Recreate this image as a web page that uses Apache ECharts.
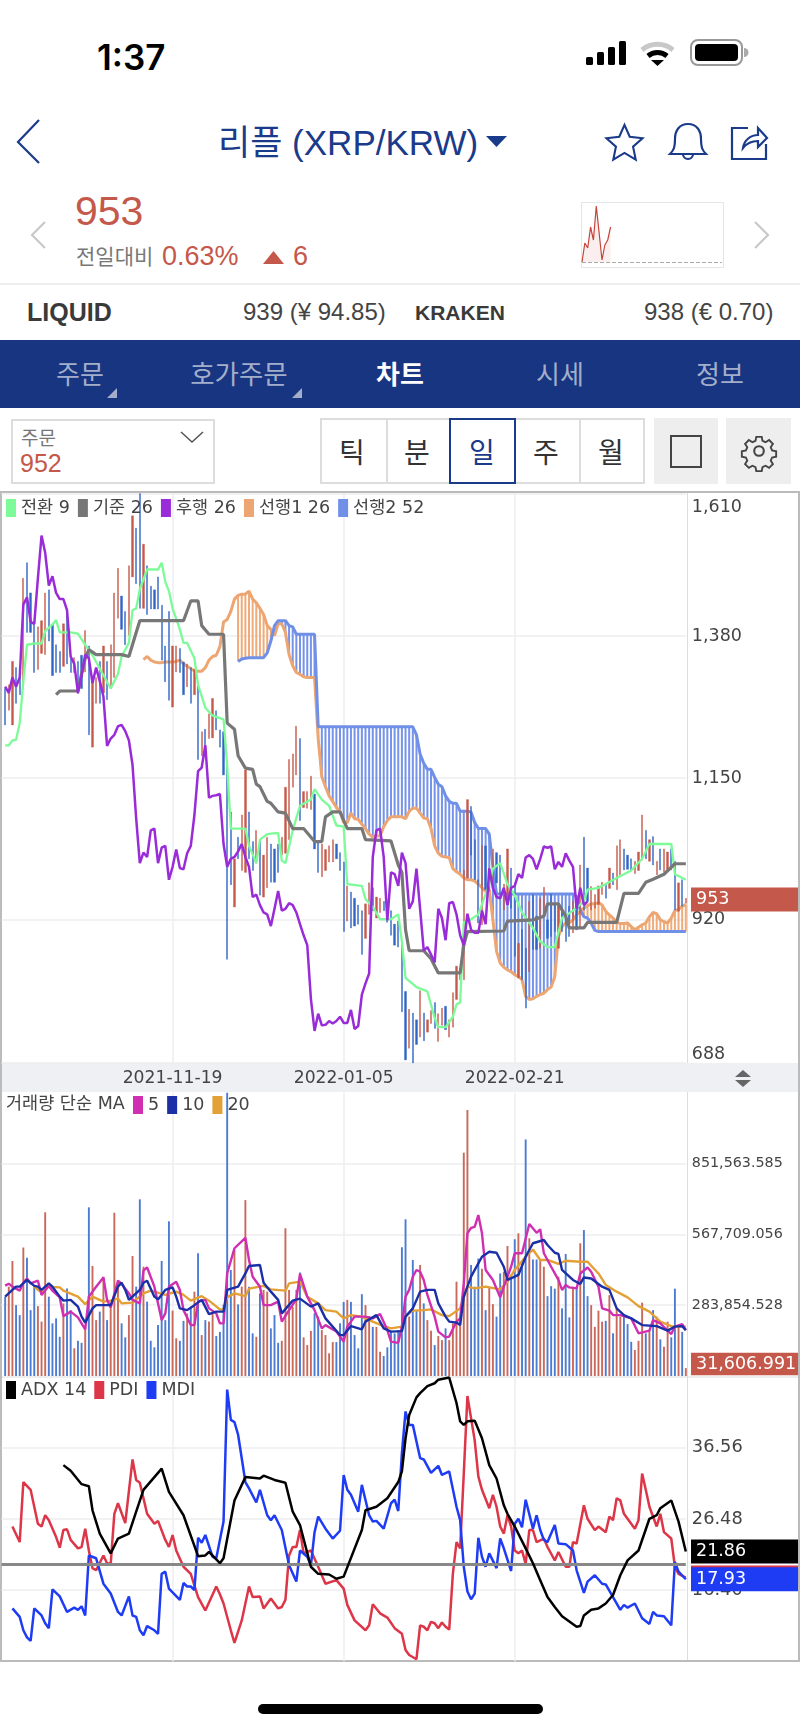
<!DOCTYPE html>
<html>
<head>
<meta charset="utf-8">
<style>
html,body{margin:0;padding:0;background:#fff;width:800px;height:1731px;overflow:hidden}
body{font-family:"Liberation Sans","Noto Sans CJK KR",sans-serif}
.t{position:absolute;white-space:nowrap;line-height:1}
.c{transform:translateX(-50%)}
.box{position:absolute;box-sizing:border-box}
svg{position:absolute;overflow:visible}
#chart{position:absolute;left:0;top:0;width:800px;height:1731px}
</style>
<script src="https://cdn.jsdelivr.net/npm/echarts@6/dist/echarts.min.js"></script>
</head>
<body>
<!-- status bar -->
<div class="t" style="left:97px;top:36px;font:600 35px Inter,sans-serif;color:#000">1:37</div>
<svg style="left:0;top:0" width="800" height="80">
  <rect x="586" y="57" width="7" height="8" rx="1.5" fill="#000"/><rect x="597" y="52" width="7" height="13" rx="1.5" fill="#000"/>
  <rect x="608" y="47" width="7" height="18" rx="1.5" fill="#000"/><rect x="619" y="41" width="7" height="24" rx="1.5" fill="#000"/>
  <path d="M642 50a24 24 0 0 1 31 0" fill="none" stroke="#c8c8c8" stroke-width="5"/>
  <path d="M648 56a15 15 0 0 1 19 0" fill="none" stroke="#000" stroke-width="5"/>
  <path d="M651 60h13l-6.500 6z" fill="#000"/>
  <rect x="691" y="40" width="51" height="25" rx="7" fill="none" stroke="#999" stroke-width="2"/>
  <rect x="695" y="44" width="43" height="17" rx="4" fill="#000"/>
  <path d="M744 48a4 4 0 0 1 0 9z" fill="#aaa"/>
</svg>
<!-- title row -->
<svg style="left:0;top:0" width="800" height="280" fill="none" stroke="#1a3a8a" stroke-width="2.200">
  <path d="M39 120L18 142L39 163"/>
  <path d="M624.500 124l5.500 12.500 13.500 1.500-10 9 2.800 13.500-11.800-7-11.800 7 2.800-13.500-10-9 13.500-1.500z" transform="translate(624.500 142) scale(.95) translate(-624.500 -142)"/>
  <path d="M688 124c-9 0-13 7-13 15 0 8-1 11-5 15h36c-4-4-5-7-5-15 0-8-4-15-13-15zM683 154a5 5 0 0 0 10 0"/>
  <path d="M748 128h-16v31h34v-15"/>
  <path d="M743 148c1-8 8-13 15-13v-7l9 10-9 9v-6c-6 0-11 2-15 7z"/>
  <path d="M45 222L32 235L45 248" stroke="#c8c8c8"/>
  <path d="M755 222L768 235L755 248" stroke="#c8c8c8"/>
</svg>
<div class="t" style="left:218px;top:125px;font-size:35px;color:#1a3a8a;font-family:'Liberation Sans','Noto Sans CJK KR'">리플 (XRP/KRW)</div>
<svg style="left:486px;top:136px" width="22" height="12"><path d="M0 0h21l-10.500 11z" fill="#1a3a8a"/></svg>
<!-- quote -->
<div class="t" style="left:75px;top:191px;font-size:41px;color:#c4584a">953</div>
<div class="t" style="left:76px;top:245px;font-size:21px;color:#777;font-family:'Noto Sans CJK KR'">전일대비</div>
<div class="t" style="left:162px;top:243px;font-size:27px;color:#c4584a">0.63%</div>
<svg style="left:263px;top:251px" width="22" height="14"><path d="M10.500 0L21 13H0z" fill="#c4584a"/></svg>
<div class="t" style="left:293px;top:243px;font-size:27px;color:#c4584a">6</div>
<div class="box" style="left:581px;top:202px;width:143px;height:66px;border:1.500px solid #e6e6e6"></div>
<div class="box" style="left:0;top:283px;width:800px;height:2px;background:#eee"></div>
<!-- other exchanges -->
<div class="t" style="left:27px;top:300px;font-size:25px;font-weight:700;color:#3a3a3a">LIQUID</div>
<div class="t" style="left:243px;top:300px;font-size:24px;color:#444">939 (¥ 94.85)</div>
<div class="t" style="left:415px;top:302px;font-size:21px;font-weight:700;color:#3a3a3a">KRAKEN</div>
<div class="t" style="left:644px;top:300px;font-size:24px;color:#444">938 (€ 0.70)</div>
<!-- tabs -->
<div class="box" style="left:0;top:340px;width:800px;height:68px;background:#183582"></div>
<div class="t c" style="left:80px;top:360px;font-size:26px;color:#a3aecb;font-family:'Noto Sans CJK KR'">주문</div>
<div class="t c" style="left:239px;top:360px;font-size:26.500px;color:#a3aecb;font-family:'Noto Sans CJK KR'">호가주문</div>
<div class="t c" style="left:400px;top:360px;font-size:26px;font-weight:700;color:#fff;font-family:'Noto Sans CJK KR'">차트</div>
<div class="t c" style="left:560px;top:360px;font-size:26px;color:#a3aecb;font-family:'Noto Sans CJK KR'">시세</div>
<div class="t c" style="left:720px;top:360px;font-size:26px;color:#a3aecb;font-family:'Noto Sans CJK KR'">정보</div>
<svg style="left:0;top:385px" width="320" height="15" fill="#a3aecb"><path d="M117 3v10h-10z"/><path d="M302 3v10h-10z"/></svg>
<!-- toolbar -->
<div class="box" style="left:11px;top:419px;width:204px;height:65px;border:2px solid #ddd"></div>
<div class="t" style="left:21px;top:427px;font-size:19px;color:#777;font-family:'Noto Sans CJK KR'">주문</div>
<div class="t" style="left:20px;top:451px;font-size:25px;color:#c4584a">952</div>
<svg style="left:181px;top:432px" width="23" height="11" fill="none" stroke="#555" stroke-width="1.500"><path d="M0 0l11 10 11-10"/></svg>
<div class="box" style="left:320px;top:418px;width:325px;height:66px;border:2px solid #ddd"></div>
<div class="box" style="left:386px;top:418px;width:2px;height:66px;background:#ddd"></div>
<div class="box" style="left:579px;top:418px;width:2px;height:66px;background:#ddd"></div>
<div class="box" style="left:449px;top:418px;width:67px;height:66px;border:2px solid #1a3a8a"></div>
<div class="t c" style="left:352px;top:437px;font-size:28px;color:#333;font-family:'Noto Sans CJK KR'">틱</div>
<div class="t c" style="left:417px;top:437px;font-size:28px;color:#333;font-family:'Noto Sans CJK KR'">분</div>
<div class="t c" style="left:482px;top:437px;font-size:28px;color:#1a3a8a;font-family:'Noto Sans CJK KR'">일</div>
<div class="t c" style="left:546px;top:437px;font-size:28px;color:#333;font-family:'Noto Sans CJK KR'">주</div>
<div class="t c" style="left:611px;top:437px;font-size:28px;color:#333;font-family:'Noto Sans CJK KR'">월</div>
<div class="box" style="left:654px;top:418px;width:64px;height:66px;background:#eee"></div>
<div class="box" style="left:726px;top:418px;width:65px;height:66px;background:#eee"></div>
<div class="box" style="left:670px;top:435px;width:32px;height:33px;border:2px solid #444"></div>
<svg style="left:741px;top:433px" width="36" height="36" viewBox="0 0 24 24" fill="none" stroke="#444" stroke-width="1.400"><circle cx="12" cy="12" r="3.200"/><path d="M10 1.500h4l.6 3 2.300 1 2.600-1.600 2.800 2.800-1.600 2.600 1 2.300 3 .6v4l-3 .6-1 2.300 1.600 2.600-2.800 2.800-2.600-1.600-2.300 1-.6 3h-4l-.6-3-2.300-1-2.600 1.600-2.800-2.800 1.600-2.600-1-2.300-3-.6v-4l3-.6 1-2.300-1.600-2.600 2.800-2.800 2.600 1.600 2.300-1z" transform="translate(1.200 1.200) scale(.9)"/></svg>
<!-- chart frame -->
<div class="box" style="left:0;top:491px;width:800px;height:1171px;border:2px solid #bbb"></div>
<div class="box" style="left:2px;top:1063px;width:796px;height:29px;background:#eef0f4"></div>
<div class="box" style="left:2px;top:1375.500px;width:796px;height:2px;background:#eee"></div>
<div class="box" style="left:686.500px;top:493px;width:1.500px;height:570px;background:#ddd"></div>
<div class="box" style="left:686.500px;top:1092px;width:1.500px;height:568px;background:#ddd"></div>
<svg style="left:731px;top:1070px" width="24" height="17" fill="#666"><path d="M12 0l8 7H4z"/><path d="M12 17l-8-7h16z"/></svg>
<div class="box" style="left:258px;top:1704px;width:285px;height:10px;border-radius:5px;background:#000"></div>
<div id="chart"></div>
<script>
// i = 0 is an empty day in front of the first candle
const startDay = Date.UTC(2021, 9, 3);
const dates = [];
for (let d = 0; d <= 188; d++) dates.push(new Date(startDay + d * 864e5).toISOString().slice(0, 10));
const dateTicks = ['2021-11-19', '2022-01-05', '2022-02-21'];

const priceTicks = [688, 920, 1150, 1380, 1610];
const volumeTicksK = [283.854528, 567.709056, 851.563585];
const adxTicks = [16.40, 26.48, 36.56];

// candles from i = 1
const priceHigh = [1295,1301,1339,1329,1329,1474,1499,1450,1403,1395,
1405,1450,1455,1399,1366,1355,1400,1419,1344,1345,
1339,1349,1389,1364,1313,1313,1339,1364,1339,1366,
1450,1490,1445,1420,1494,1575,1555,1611,1529,1494,
1461,1455,1476,1430,1364,1420,1364,1364,1360,1338,
1335,1329,1326,1300,1225,1229,1254,1279,1259,1228,
1225,1169,1095,1019,1054,1090,1163,1095,1047,1065,
1050,1025,1054,1043,1035,1043,1054,1135,1180,1189,
1234,1214,1128,1128,1153,1124,1047,1043,1034,1040,
1050,1043,1029,1014,975,965,955,944,935,946,
980,972,957,955,950,947,935,913,918,885,
804,775,769,758,805,769,758,773,786,768,
777,780,758,802,845,836,1001,1115,1104,1050,
985,1040,1040,1004,1035,1029,1025,978,1035,1004,
980,882,904,874,950,961,926,955,973,920,
962,947,945,936,928,942,950,947,1009,1054,
1004,974,961,975,981,978,1004,996,1040,1050,
1035,1025,1019,1015,1030,1090,1065,1050,1055,1015,
1035,1035,1030,1035,1015,980,985,955];
const priceLow = [1236,1260,1236,1271,1285,1295,1386,1386,1321,1326,
1352,1350,1372,1316,1321,1321,1331,1335,1321,1321,
1287,1295,1322,1220,1200,1271,1271,1288,1277,1295,
1313,1409,1391,1366,1381,1476,1465,1425,1425,1415,
1424,1424,1424,1341,1306,1276,1265,1322,1321,1285,
1298,1271,1285,1180,1186,1189,1214,1215,1228,1200,
1155,856,977,941,1019,1000,997,1019,1000,1012,
960,957,972,981,981,997,1025,1028,1050,1135,
1155,1081,1102,1101,1099,1035,997,990,1000,1014,
1014,1019,1000,901,918,907,910,913,864,890,
929,935,923,932,935,916,895,879,876,771,
693,712,688,718,730,724,738,752,744,723,
749,742,730,746,791,823,823,988,1025,985,
915,912,969,966,971,980,961,936,945,939,
861,826,823,777,836,872,872,874,931,890,
893,901,874,901,885,893,899,904,907,936,
950,936,939,945,961,955,971,977,969,993,
1001,1002,1000,995,1000,1017,1019,1015,1009,993,
1001,998,1001,1001,936,934,942,947];
const priceUp = [0,1,1,0,0,1,0,0,0,1, 1,1,0,0,0,0,1,0,0,1,
0,0,1,0,1,1,0,1,0,1, 1,1,0,0,1,1,0,0,1,0,
0,0,0,0,0,0,1,1,0,0, 1,0,1,0,1,0,1,1,0,0,
0,0,0,1,0,1,1,0,0,1, 0,1,1,0,0,0,1,1,1,1,
1,0,1,1,1,0,0,1,1,1, 1,0,0,0,1,0,0,0,0,1,
1,0,1,1,0,0,0,0,0,0, 0,1,0,0,1,0,1,1,0,1,
1,0,1,1,1,1,1,1,0,0, 0,1,0,1,1,0,0,1,1,0,
0,1,0,0,1,0,0,1,1,0, 0,0,1,0,0,0,1,0,1,0,
0,1,1,1,1,0,1,0,1,1, 0,0,0,1,1,1,0,1,0,1,
0,1,1,0,0,1,0,1];

// ichimoku
const tenkan = [[1,1203],[2,1203],[3,1211],[4,1212],[5,1239],[6,1307],[7,1366],[9,1368],[11,1368],[12,1388],[14,1399],[15,1406],[16,1386],[19,1386],[21,1384],[23,1366],[25,1349],[30,1295],[32,1319],[33,1347],[35,1369],[36,1422],[37,1425],[38,1456],[40,1488],[43,1488],[44,1499],[45,1468],[46,1453],[47,1425],[49,1391],[50,1369],[51,1369],[53,1344],[54,1301],[56,1264],[58,1251],[61,1245],[62,1171],[63,1068],[67,1068],[68,1040],[70,1012],[71,1050],[73,1059],[76,1061],[77,1016],[78,1012],[80,1065],[82,1105],[85,1115],[86,1132],[88,1115],[90,1105],[92,1073],[94,1071],[95,978],[99,975],[100,954],[102,941],[104,921],[107,921],[109,929],[110,885],[111,826],[114,811],[117,804],[119,761],[120,746],[122,746],[124,763],[125,783],[126,786],[127,916],[129,921],[131,929],[134,978],[135,1003],[137,1012],[139,978],[141,960],[143,932],[146,907],[148,885],[150,876],[152,876],[154,923],[157,935],[160,950],[161,969],[164,972],[166,978],[169,988],[173,1000],[176,1019],[178,1043],[184,1043],[185,994],[188,985]];
const kijun = [[15,1285],[16,1291],[21,1291],[22,1319],[23,1344],[24,1358],[26,1350],[33,1350],[35,1347],[37,1386],[38,1405],[50,1405],[52,1437],[54,1437],[55,1397],[57,1383],[61,1383],[62,1239],[64,1229],[65,1186],[67,1166],[69,1164],[70,1140],[71,1136],[73,1112],[74,1109],[76,1095],[78,1093],[80,1068],[83,1068],[86,1047],[88,1047],[89,1087],[91,1095],[93,1095],[95,1068],[99,1068],[100,1050],[107,1048],[109,1009],[110,997],[111,904],[112,870],[116,870],[118,857],[120,834],[126,834],[127,879],[128,901],[138,902],[139,918],[146,920],[149,926],[150,946],[153,946],[155,926],[156,907],[160,907],[161,916],[169,916],[171,963],[175,963],[177,981],[179,986],[182,994],[185,1011],[188,1011]];
const chikou = [[1,1298],[2,1288],[3,1313],[4,1298],[5,1313],[6,1431],[7,1443],[8,1403],[9,1400],[10,1474],[11,1543],[12,1515],[13,1462],[14,1477],[15,1450],[16,1440],[17,1440],[18,1422],[19,1347],[20,1335],[21,1288],[22,1316],[23,1350],[24,1344],[25,1304],[26,1329],[27,1307],[28,1282],[29,1202],[30,1214],[31,1220],[32,1234],[33,1236],[34,1226],[35,1211],[36,1171],[37,1084],[38,1012],[39,1029],[40,1022],[41,1065],[42,1068],[43,1012],[44,1037],[45,1040],[46,985],[47,1006],[48,1034],[49,1004],[50,1002],[51,1028],[52,1040],[53,1090],[54,1161],[55,1167],[56,1203],[57,1118],[58,1121],[59,1122],[60,1124],[61,1043],[62,1006],[63,1019],[64,1022],[65,1031],[66,1043],[67,1022],[68,1006],[69,957],[70,961],[71,944],[72,932],[73,929],[74,910],[75,938],[76,967],[77,935],[78,938],[79,947],[80,944],[81,932],[82,913],[83,895],[84,879],[85,792],[86,740],[87,768],[88,749],[89,750],[90,756],[91,752],[92,756],[93,763],[94,753],[95,753],[96,774],[97,743],[98,748],[99,799],[100,817],[101,833],[102,1022],[103,1065],[104,1068],[105,1022],[106,919],[107,997],[108,994],[109,975],[110,1029],[111,1012],[112,938],[113,950],[114,1003],[115,938],[116,870],[117,876],[118,864],[119,851],[120,938],[121,923],[122,887],[123,947],[124,949],[125,929],[126,895],[127,879],[128,930],[129,904],[130,899],[131,899],[132,935],[133,913],[134,1003],[135,972],[136,957],[137,955],[138,972],[139,944],[140,972],[141,975],[142,994],[143,988],[144,1021],[145,1025],[146,1019],[147,1002],[148,1019],[149,1039],[150,1037],[151,1039],[152,1002],[153,1014],[154,1006],[155,1028],[156,1016],[157,1006],[158,938],[159,972],[160,944],[161,950]];
const senkou1Start = 39;
const senkou1 = [1342,1347,1341,1338,1337,1337,1338,1338,1338,1339,
1341,1335,1331,1327,1324,1323,1323,1329,1341,1347,
1349,1363,1403,1407,1420,1440,1446,1448,1448,1453,
1440,1434,1425,1415,1397,1391,1381,1400,1400,1386,
1350,1332,1321,1318,1314,1313,1313,1313,1214,1152,
1136,1121,1112,1102,1096,1078,1078,1093,1084,1083,
1075,1068,1059,1054,1056,1056,1071,1081,1087,1087,
1087,1087,1084,1096,1101,1101,1093,1085,1084,1068,
1040,1028,1023,1022,1021,1003,998,994,988,985,
985,983,978,972,966,969,920,869,850,843,
839,836,831,828,823,796,791,792,796,799,
801,807,811,828,893,909,915,915,920,928,
934,939,943,946,946,948,944,934,928,923,
916,914,914,915,909,904,908,912,915,925,
932,930,920,917,915,923,935,937,942,945];
const senkou2Start = 65;
const senkou2 = [1339,1343,1344,1345,1345,1345,1345,1345,1353,1372,
1397,1405,1405,1405,1397,1395,1383,1383,1383,1383,
1383,1383,1233,1233,1233,1233,1233,1233,1233,1233,
1233,1233,1233,1233,1233,1233,1233,1233,1233,1233,
1233,1233,1233,1233,1233,1233,1233,1233,1233,
1220,1189,1174,1164,1164,1151,1140,1136,1121,1112,1109,1109,
1096,1096,1096,1095,1078,1068,1068,1068,1059,1006,
962,962,962,962,962,962,962,962,962,962,962,
962,962,962,962,962,962,962,962,962,962,962,958,
936,925,923,915,903,
901,901,901,901,901,901,901,901,901,901,901,901,901,
901,901,901,901,901,901,901,901,901,901,901,901];

// volume, thousands, from i = 1
const volumeK = [318,358,461,284,244,515,474,264,358,280,
218,656,318,211,231,157,291,351,264,111,
141,133,197,676,441,224,258,398,224,284,
654,385,211,155,244,481,358,708,438,298,
141,115,204,461,224,620,262,151,141,221,
250,278,338,492,164,224,218,251,160,177,
285,1135,425,505,287,358,705,358,171,157,
331,345,338,191,244,133,141,592,345,277,
345,415,155,124,181,251,238,184,164,91,
136,136,211,297,305,297,164,111,328,284,
240,197,197,97,80,115,177,171,184,516,
628,238,465,264,445,291,224,181,124,160,
144,191,144,211,378,231,895,1066,445,358,
471,430,264,358,288,238,411,418,521,398,
548,572,451,948,552,467,467,467,438,320,
360,350,398,271,489,235,358,358,532,585,
320,284,197,262,218,221,324,171,271,238,
238,208,137,104,141,294,171,181,264,238,
147,117,218,155,350,197,177,31.607];
const ma5 = [[1,362],[2,370],[3,358],[5,342],[6,374],[7,391],[8,371],[10,382],[11,325],[13,361],[14,342],[16,315],[17,240],[19,258],[21,235],[23,187],[24,318],[26,358],[28,395],[29,305],[30,275],[32,382],[33,369],[35,331],[36,305],[38,291],[39,422],[40,435],[42,358],[44,224],[45,251],[46,358],[48,378],[49,345],[50,264],[52,204],[53,204],[54,298],[56,305],[57,271],[59,251],[60,211],[61,211],[62,411],[64,512],[67,554],[68,465],[69,398],[71,358],[72,284],[74,284],[76,298],[77,218],[79,264],[81,307],[82,409],[84,318],[86,264],[88,191],[89,204],[92,178],[94,138],[95,198],[97,238],[100,238],[102,231],[104,248],[106,184],[107,138],[109,133],[110,198],[111,318],[112,345],[113,398],[114,425],[115,418],[116,385],[117,325],[119,238],[120,178],[122,155],[123,158],[125,218],[126,231],[127,371],[128,572],[129,594],[130,598],[131,645],[132,572],[133,425],[135,385],[137,315],[138,358],[140,438],[141,492],[143,492],[145,609],[147,574],[148,588],[149,492],[151,438],[153,385],[154,345],[155,365],[156,355],[158,351],[159,411],[161,435],[162,418],[164,358],[165,271],[167,262],[168,244],[170,244],[173,231],[175,171],[178,182],[179,224],[181,211],[184,168],[185,198],[187,208],[188,184]];
const ma10 = [[1,318],[3,345],[4,358],[5,358],[7,385],[9,361],[10,358],[11,345],[13,371],[14,358],[16,318],[17,302],[19,305],[21,278],[22,238],[23,214],[25,271],[26,284],[30,284],[32,358],[33,374],[34,345],[35,305],[38,345],[39,374],[40,382],[42,318],[43,307],[45,345],[47,355],[48,318],[49,271],[51,264],[53,284],[55,305],[57,248],[59,258],[61,258],[62,345],[65,358],[67,411],[68,441],[71,445],[72,374],[74,338],[76,305],[77,251],[80,302],[82,310],[85,278],[87,291],[89,231],[93,164],[94,164],[96,200],[99,187],[100,218],[103,244],[105,191],[107,178],[110,180],[111,238],[113,271],[115,338],[117,345],[119,345],[120,291],[122,238],[123,218],[125,214],[126,204],[127,318],[129,398],[132,478],[134,498],[136,494],[138,438],[139,385],[141,398],[142,405],[144,478],[146,532],[149,545],[150,525],[152,494],[153,489],[154,425],[157,385],[159,369],[160,395],[162,391],[165,358],[167,345],[169,271],[171,244],[173,231],[176,204],[180,200],[183,182],[185,198],[187,200],[188,184]];
const ma20 = [[9,358],[10,345],[11,338],[12,358],[16,355],[17,342],[21,318],[23,288],[25,318],[28,298],[30,302],[32,311],[33,291],[36,294],[39,331],[41,342],[45,325],[48,338],[50,325],[52,302],[55,320],[57,302],[60,267],[61,267],[62,315],[64,331],[67,320],[68,350],[72,361],[74,347],[78,342],[79,371],[82,378],[84,318],[87,291],[89,264],[92,258],[94,231],[96,244],[99,238],[102,218],[105,200],[107,191],[110,198],[111,240],[113,262],[116,264],[118,267],[121,244],[123,240],[126,271],[128,358],[130,351],[133,358],[134,355],[137,347],[139,378],[141,425],[144,478],[146,507],[148,465],[150,465],[153,449],[155,462],[159,458],[161,458],[164,411],[166,365],[169,338],[172,315],[175,280],[178,258],[181,218],[184,200],[188,198]];

// directional movement
const adx = [[17,34.1],[19,33.3],[22,31.4],[24,31.1],[25,27.7],[27,24.4],[30,21.6],[32,23.7],[35,24.4],[37,27.5],[39,30.6],[44,33.6],[46,30.3],[50,27.0],[54,21.2],[56,21.3],[57,21.8],[60,20.2],[61,20.9],[64,29.1],[67,32.4],[71,32.2],[72,32.6],[75,32.0],[78,31.6],[80,27.5],[82,25.6],[85,19.7],[87,18.7],[90,18.6],[92,18.0],[94,18.3],[99,24.9],[100,27.7],[103,28.2],[106,29.4],[109,31.7],[110,33.2],[111,37.9],[112,41.2],[114,43.7],[115,44.3],[117,45.3],[119,45.7],[120,46.2],[123,46.5],[125,42.9],[126,40.3],[127,39.8],[128,40.3],[130,40.4],[132,37.9],[134,34.1],[136,32.2],[138,28.4],[139,27.2],[141,25.4],[144,22.3],[146,20.2],[148,17.8],[150,15.4],[152,14.0],[154,12.7],[158,11.2],[159,11.3],[160,12.8],[162,13.6],[164,13.8],[166,14.5],[168,15.7],[170,18.5],[172,20.6],[175,22.0],[178,26.5],[180,27.0],[181,28.0],[184,29.1],[186,26.1],[188,21.86]];
const pdi = [[3,25.4],[5,23.2],[6,31.7],[8,30.6],[10,25.8],[11,25.4],[12,27.0],[13,26.3],[15,23.9],[16,22.4],[17,24.9],[18,25.0],[19,23.5],[21,22.3],[22,22.5],[23,25.1],[24,22.0],[25,19.5],[26,19.2],[28,21.3],[29,20.2],[30,20.1],[31,27.2],[32,28.7],[34,25.9],[36,34.9],[37,32.0],[38,31.6],[40,27.2],[42,25.8],[43,26.2],[45,23.5],[46,22.5],[47,24.2],[48,22.0],[50,19.7],[52,18.7],[54,15.4],[56,13.5],[59,16.9],[60,15.8],[61,14.5],[63,10.7],[64,8.9],[66,12.1],[68,16.9],[69,15.4],[71,15.5],[72,13.8],[74,15.2],[76,13.8],[77,14.0],[78,15.0],[79,21.3],[80,22.5],[81,22.5],[82,24.9],[83,21.6],[85,22.0],[87,19.7],[89,17.3],[92,17.8],[94,16.6],[95,14.3],[97,12.1],[100,10.7],[101,11.4],[102,14.4],[104,13.1],[106,12.5],[108,11.0],[110,10.2],[111,7.9],[112,7.2],[114,6.6],[115,11.4],[116,11.2],[117,10.7],[118,11.9],[119,11.7],[120,11.0],[121,11.8],[122,11.2],[123,10.8],[124,18.7],[125,23.2],[126,22.3],[127,32.9],[128,43.9],[130,37.6],[131,32.5],[132,30.6],[134,28.0],[135,29.9],[136,28.2],[137,25.4],[138,24.4],[139,27.0],[140,25.4],[141,22.0],[142,21.6],[143,22.0],[144,20.1],[145,24.9],[146,24.9],[147,23.2],[149,23.7],[150,22.5],[152,20.6],[153,21.8],[155,19.7],[156,19.7],[157,23.2],[158,23.0],[160,28.4],[161,26.5],[163,24.9],[164,25.4],[166,24.6],[167,26.8],[168,26.3],[169,29.4],[170,29.1],[171,27.2],[174,25.1],[175,26.3],[176,32.9],[177,30.6],[178,28.2],[180,25.4],[181,27.2],[182,24.6],[184,23.7],[185,19.7],[186,18.7],[188,18.17]];
const mdi = [[3,13.8],[5,12.6],[6,10.7],[7,9.7],[8,9.2],[9,13.8],[11,12.8],[12,11.7],[13,11.0],[14,16.5],[16,15.5],[18,13.3],[20,13.9],[21,13.6],[22,14.1],[23,12.8],[24,21.3],[26,20.9],[28,17.3],[30,15.9],[32,13.3],[33,12.8],[35,15.5],[36,12.8],[37,12.6],[38,10.7],[39,10.0],[40,11.3],[42,10.7],[43,10.2],[44,18.7],[45,19.0],[46,16.6],[49,15.0],[50,17.4],[51,16.9],[52,16.9],[53,16.4],[54,23.8],[55,23.1],[56,24.2],[58,21.1],[59,20.9],[61,26.1],[62,44.8],[63,40.5],[64,40.2],[65,38.4],[67,31.7],[68,30.8],[70,28.8],[71,30.6],[73,27.0],[74,26.3],[75,27.0],[77,24.9],[79,19.9],[81,17.6],[82,22.0],[84,21.1],[85,19.9],[86,24.6],[87,26.8],[89,25.1],[91,23.7],[93,24.8],[94,32.7],[95,30.6],[96,29.9],[98,27.5],[99,31.3],[101,27.0],[102,26.1],[103,26.2],[105,25.1],[107,28.7],[108,29.2],[109,27.6],[110,35.8],[111,41.7],[112,39.8],[113,39.8],[115,35.1],[116,34.9],[118,33.0],[120,34.0],[121,32.7],[123,33.2],[125,28.2],[126,26.3],[127,19.7],[128,16.2],[129,15.1],[130,15.9],[131,23.8],[132,21.1],[133,19.7],[134,21.6],[136,19.5],[137,23.7],[138,22.3],[140,19.1],[141,25.8],[142,26.5],[143,25.3],[144,29.2],[146,25.1],[147,27.0],[148,24.9],[149,23.5],[150,23.2],[152,25.6],[153,23.0],[155,22.9],[157,22.0],[158,19.2],[160,16.0],[161,17.6],[163,18.5],[165,17.3],[166,17.2],[168,15.4],[170,13.6],[171,14.3],[172,13.9],[174,14.5],[176,12.4],[178,11.6],[179,13.3],[180,12.8],[182,12.7],[184,11.4],[185,20.4],[186,19.0],[188,17.93]];

// small intraday sparkline in the quote row
const miniSlots = 50;
const miniPrice = [0,19,14,35,22,56,29,2,17,22,35];

const RED = '#c4584a', BLUE = '#2f66c6';
const FONT = '"DejaVu Sans","Noto Sans CJK KR",sans-serif';
const LAST = dates.length - 1;

const candles = priceHigh.map((h, k) => {
  const l = priceLow[k];
  return [k + 1, priceUp[k] ? l : h, priceUp[k] ? h : l, l, h];
});
const volumeBars = volumeK.map((v, k) => ({
  value: [k + 1, v],
  itemStyle: {color: priceUp[k] ? '#c9695b' : '#4c7bd2'}
}));
const cloud = [];
for (let i = senkou2Start; i <= LAST; i++) {
  cloud.push([i, senkou1[i - senkou1Start], senkou2[i - senkou2Start]]);
}

function line(name, data, color, width, xAxisIndex, extra) {
  return Object.assign({
    name, type: 'line', data, xAxisIndex, yAxisIndex: xAxisIndex,
    showSymbol: false, symbol: 'none', silent: true, animation: false,
    lineStyle: {color, width}, itemStyle: {color}
  }, extra || {});
}
function tag(coord, text, color, h, dy) {
  return {
    coord, symbol: 'rect', symbolSize: [107, h], symbolOffset: [58.7, dy || 0],
    itemStyle: {color},
    label: {show: !!text, formatter: text || '', position: 'insideLeft', distance: 5, color: '#fff', fontFamily: FONT, fontSize: 17.5}
  };
}
function tagLayer(items) {
  return {silent: true, animation: false, z: 20, data: items};
}
function xAxis(gridIndex, withLabels) {
  return {
    type: 'category', gridIndex, data: dates, boundaryGap: false,
    axisLine: {show: false}, axisTick: {show: false},
    axisLabel: withLabels
      ? {show: true, interval: i => dateTicks.includes(dates[i]), color: '#444', fontFamily: FONT, fontSize: 17.2, margin: 7, hideOverlap: false}
      : {show: false},
    splitLine: {show: true, interval: i => dateTicks.includes(dates[i]), lineStyle: {color: '#eeeef0', width: 1.5}}
  };
}
function yAxis(gridIndex, min, max, ticks, fontSize, formatter, more) {
  return {
    type: 'value', gridIndex, position: 'right', min, max, scale: true,
    axisLine: {show: false},
    axisTick: {show: false, customValues: ticks},
    axisLabel: Object.assign({customValues: ticks, formatter, color: '#444', fontFamily: FONT, fontSize, margin: 6}, more || {}),
    splitLine: {show: true, lineStyle: {color: '#eeeef0', width: 1.5}}
  };
}
const legendBase = {
  orient: 'horizontal', padding: 0, icon: 'rect', itemWidth: 10, itemHeight: 18, itemGap: 8,
  selectedMode: false, textStyle: {color: '#444', fontFamily: FONT, fontSize: 17.5}
};

const option = {
  animation: false,
  backgroundColor: 'transparent',
  grid: [
    {left: 1.5, width: 684.32, top: 493, height: 570},
    {left: 1.5, width: 684.32, top: 1092.7, height: 283.3},
    {left: 1.5, width: 684.32, top: 1376.6, height: 284.6},
    {left: 582, width: 140, top: 204, height: 58}
  ],
  xAxis: [
    xAxis(0, true), xAxis(1, false), xAxis(2, false),
    {type: 'category', gridIndex: 3, data: Array.from({length: miniSlots}, (_, k) => k), boundaryGap: false, show: false}
  ],
  yAxis: [
    yAxis(0, 688, 1612, priceTicks, 17.5, v => Math.round(v).toLocaleString('en-US'),
      {verticalAlignMinLabel: 'bottom', verticalAlignMaxLabel: 'top', padding: [4, 0, 0, 0]}),
    yAxis(1, 0, 1135.418, volumeTicksK, 14.3, v => (v * 1000).toLocaleString('en-US', {minimumFractionDigits: 3, maximumFractionDigits: 3}),
      {padding: [0, 0, 4, 0]}),
    yAxis(2, 6.32, 46.64, adxTicks, 17.8, v => v.toFixed(2), {padding: [2, 0, 0, 0]}),
    {type: 'value', gridIndex: 3, min: 0, max: 58, show: false}
  ],
  legend: [
    Object.assign({}, legendBase, {left: 6, top: 499, data: ['전환 9', '기준 26', '후행 26', '선행1 26', '선행2 52']}),
    Object.assign({}, legendBase, {left: 133, top: 1096, data: ['5', '10', '20']}),
    Object.assign({}, legendBase, {left: 6, top: 1381, data: ['ADX 14', 'PDI', 'MDI']})
  ],
  graphic: [{
    type: 'text', left: 6, top: 1096,
    style: {text: '거래량 단순 MA', fill: '#444', font: '17.5px ' + FONT}
  }],
  series: [
    {
      type: 'custom', xAxisIndex: 0, yAxisIndex: 0, silent: true, clip: false, z: 1,
      encode: {x: 0, y: [1, 2]}, data: cloud,
      renderItem: (params, api) => {
        const a = api.coord([api.value(0), api.value(1)]);
        const b = api.coord([api.value(0), api.value(2)]);
        return {
          type: 'line',
          shape: {x1: a[0], y1: a[1], x2: b[0], y2: b[1]},
          style: {stroke: api.value(1) >= api.value(2) ? '#efab7a' : '#7593ea', lineWidth: 2}
        };
      }
    },
    line('선행1 26', senkou1.map((v, k) => [k + senkou1Start, v]), '#eda571', 3, 0, {z: 2}),
    line('선행2 52', senkou2.map((v, k) => [k + senkou2Start, v]), '#7090e8', 3, 0, {z: 2}),
    {
      type: 'candlestick', xAxisIndex: 0, yAxisIndex: 0, silent: true, barWidth: 1.8, clip: false, z: 3,
      encode: {x: 0, y: [1, 2, 3, 4]}, data: candles,
      itemStyle: {color: RED, color0: BLUE, borderColor: RED, borderColor0: BLUE, borderWidth: 0.4},
      markPoint: tagLayer([tag([LAST, 953], '953', RED, 24)])
    },
    line('전환 9', tenkan, '#7dfb98', 2.3, 0, {z: 4}),
    line('기준 26', kijun, '#777777', 3.2, 0, {z: 5}),
    line('후행 26', chikou, '#9a2bd8', 2.5, 0, {z: 5}),

    {
      type: 'bar', xAxisIndex: 1, yAxisIndex: 1, silent: true, barWidth: 1.9, clip: false, z: 1,
      data: volumeBars,
      markPoint: tagLayer([tag([LAST, 31.607], '31,606.991', RED, 22.5, -4)])
    },
    line('20', ma20, '#e2a035', 2.4, 1, {z: 3}),
    line('10', ma10, '#1b2fa6', 2.4, 1, {z: 4}),
    line('5', ma5, '#cf2fb0', 2.4, 1, {z: 3}),

    line('PDI', pdi, '#dc3648', 2.5, 2, {z: 3, markPoint: tagLayer([tag([LAST, 18.17], '', '#dc3648', 24)])}),
    line('MDI', mdi, '#1f3cf5', 2.5, 2, {z: 4, markPoint: tagLayer([tag([LAST, 17.93], '17.93', '#1f3cf5', 24)])}),
    line('ADX 14', adx, '#000000', 2.5, 2, {
      z: 5,
      markPoint: tagLayer([tag([LAST, 21.86], '21.86', '#000000', 24)]),
      markLine: {silent: true, animation: false, symbol: 'none', label: {show: false}, lineStyle: {color: '#888', width: 3, type: 'solid'}, data: [{yAxis: 20}]}
    }),

    {
      type: 'line', xAxisIndex: 3, yAxisIndex: 3, data: miniPrice, showSymbol: false, symbol: 'none', silent: true,
      lineStyle: {color: '#c4443a', width: 1.2},
      areaStyle: {color: 'rgba(196,68,58,0.12)'},
      markLine: {silent: true, animation: false, symbol: 'none', label: {show: false}, lineStyle: {color: '#aaa', width: 1, type: 'dashed'}, data: [{yAxis: 0}]}
    }
  ]
};

const chart = echarts.init(document.getElementById('chart'));
chart.setOption(option);
</script>
</body>
</html>
